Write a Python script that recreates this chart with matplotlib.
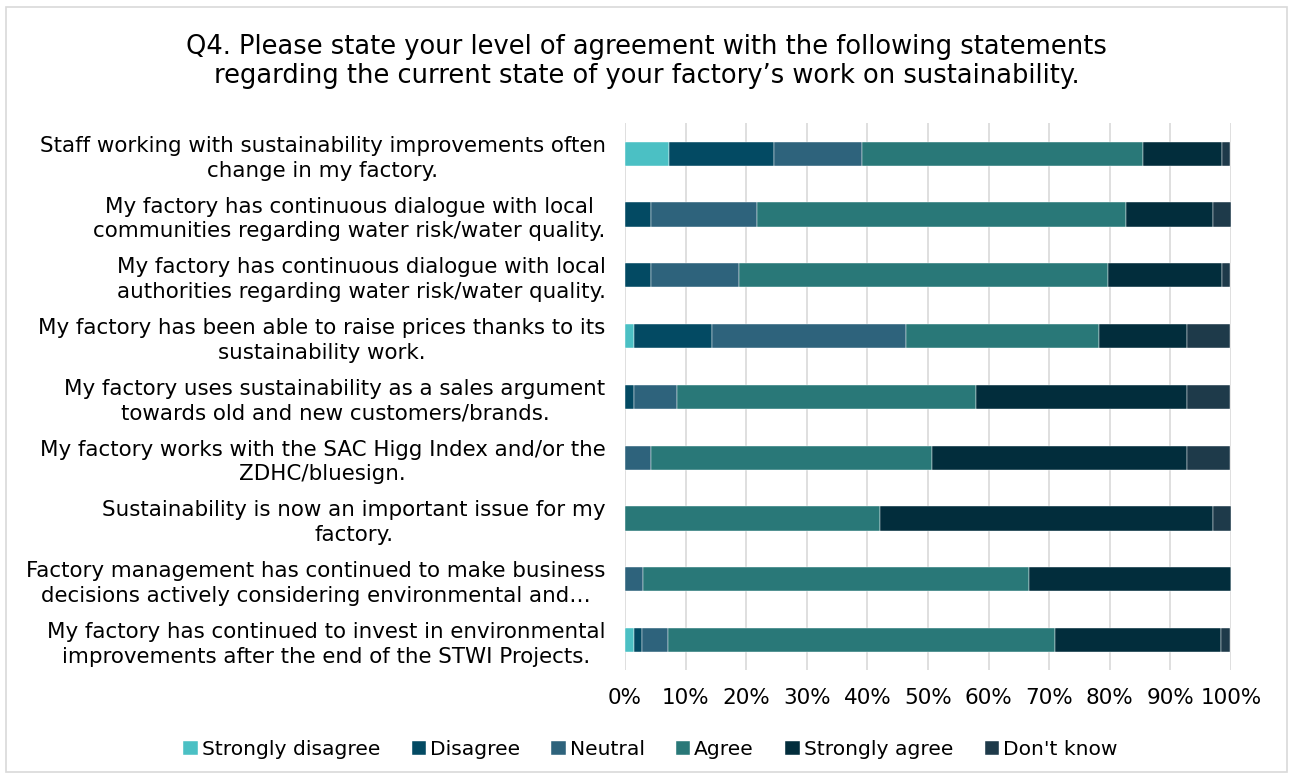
import matplotlib.pyplot as plt
from matplotlib.patches import Rectangle
import numpy as np

plt.rcParams['font.family'] = ['DejaVu Sans']

statements = [
    "Staff working with sustainability improvements often\nchange in my factory.",
    "My factory has continuous dialogue with local\ncommunities regarding water risk/water quality.",
    "My factory has continuous dialogue with local\nauthorities regarding water risk/water quality.",
    "My factory has been able to raise prices thanks to its\nsustainability work.",
    "My factory uses sustainability as a sales argument\ntowards old and new customers/brands.",
    "My factory works with the SAC Higg Index and/or the\nZDHC/bluesign.",
    "Sustainability is now an important issue for my\nfactory.",
    "Factory management has continued to make business\ndecisions actively considering environmental and\u2026",
    "My factory has continued to invest in environmental\nimprovements after the end of the STWI Projects.",
]

responses = ["Strongly disagree", "Disagree", "Neutral", "Agree",
             "Strongly agree", "Don't know"]

# share of respondents per answer (%), one value per statement
strongly_disagree = [7.2, 0.0, 0.0, 1.4, 0.0, 0.0, 0.0, 0.0, 1.4]
disagree = [17.4, 4.3, 4.3, 13.0, 1.4, 0.0, 0.0, 0.0, 1.4]
neutral = [14.5, 17.4, 14.5, 31.9, 7.2, 4.3, 0.0, 2.9, 4.3]
agree = [46.4, 60.9, 60.9, 31.9, 49.3, 46.4, 42.0, 63.8, 63.8]
strongly_agree = [13.0, 14.5, 18.8, 14.5, 34.8, 42.0, 55.1, 33.3, 27.5]
dont_know = [1.4, 2.9, 1.4, 7.2, 7.2, 7.2, 2.9, 0.0, 1.4]

colors = ['#4BC0C4', '#034A63', '#2E637C', '#297878', '#022D3C', '#1E3A4A']

series = [strongly_disagree, disagree, neutral, agree, strongly_agree, dont_know]

fig = plt.figure(figsize=(12.93, 7.78), dpi=100)
ax = fig.add_axes([0.4834, 0.1383, 0.4687, 0.7031])

y = np.arange(len(statements))
left = np.zeros(len(statements))
for name, vals, col in zip(responses, series, colors):
    vals = np.array(vals)
    ax.barh(y, vals, left=left, height=0.4, color=col, label=name,
            edgecolor='white', linewidth=0.3)
    left += vals

ax.set_xlim(0, 100)
ax.set_ylim(len(statements) - 0.5, -0.5)
ax.set_xticks(np.arange(0, 101, 10))
ax.set_xticklabels([f"{v}%" for v in range(0, 101, 10)], fontsize=15.5)
ax.set_yticks(y)
ax.set_yticklabels(statements, fontsize=15.4, ha='right',
                   multialignment='center', linespacing=1.3)
ax.tick_params(axis='both', length=0, colors='#000000')
ax.tick_params(axis='x', pad=13)
ax.tick_params(axis='y', pad=14)
ax.xaxis.grid(True, color='#D9D9D9', linewidth=1.2)
ax.set_axisbelow(True)
for s in ax.spines.values():
    s.set_visible(False)

fig.text(0.5, 0.921,
         "Q4. Please state your level of agreement with the following statements\n"
         "regarding the current state of your factory\u2019s work on sustainability.",
         ha='center', va='center', fontsize=18.5, linespacing=1.15)

fig.legend(loc='center', bbox_to_anchor=(0.503, 0.037), ncol=6, frameon=False,
           fontsize=14.6, handlelength=0.7, handleheight=0.7, handletextpad=0.2,
           columnspacing=1.55)

# light frame around the whole chart
fig.patches.append(Rectangle((6 / 1293, 1 - 772 / 778), 1281 / 1293, 765 / 778,
                             transform=fig.transFigure, fill=False,
                             edgecolor='#D9D9D9', linewidth=1.2))

fig.savefig('out.png', dpi=100, facecolor='white')
